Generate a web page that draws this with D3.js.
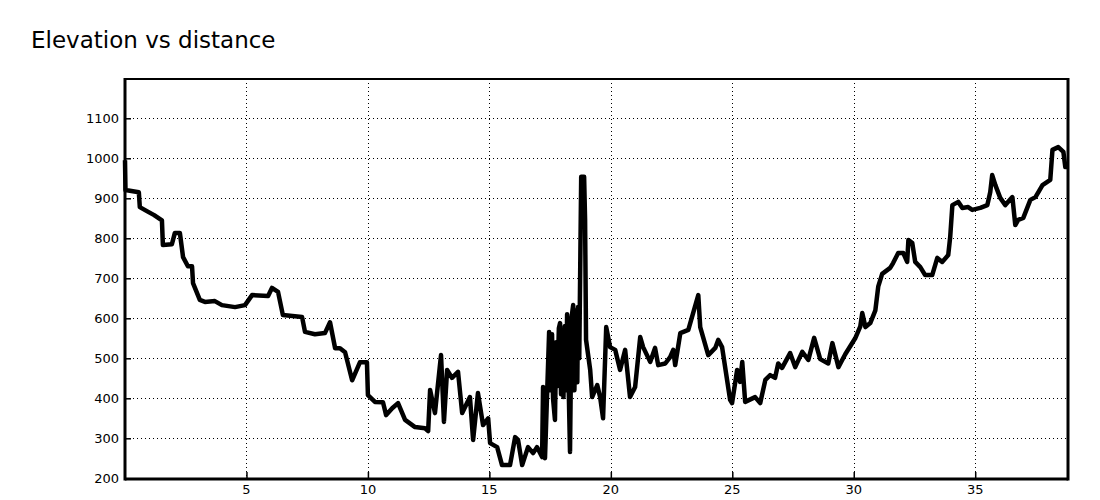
<!DOCTYPE html>
<html>
<head>
<meta charset="utf-8">
<script src="https://cdn.jsdelivr.net/npm/d3@7"></script>
<style>
  body { margin: 0; background: #fff; }
  svg { display: block; }
</style>
</head>
<body>
<svg id="chart" width="1100" height="500"></svg>
<script>
const title = "Elevation vs distance";
const xTicks = [5, 10, 15, 20, 25, 30, 35];
const yTicks = [200, 300, 400, 500, 600, 700, 800, 900, 1000, 1100];
const distance = [
  0, 0.02, 0.08, 0.57, 0.61, 0.9, 1.2, 1.52, 1.56, 1.93, 2.05, 2.26, 2.39, 2.59, 2.76, 2.80,
  3.08, 3.29, 3.70, 3.99, 4.53, 4.94, 5.23, 5.89, 6.05, 6.30, 6.50, 7.29, 7.41, 7.82, 8.23,
  8.44, 8.65, 8.85, 9.06, 9.35, 9.67, 9.96, 10.00, 10.29, 10.62, 10.75, 11.0, 11.24, 11.53,
  11.94, 12.35, 12.48, 12.56, 12.76, 13.01, 13.13, 13.26, 13.46, 13.71, 13.88, 14.20, 14.33,
  14.53, 14.74, 14.95, 15.03, 15.32, 15.52, 15.85, 16.06, 16.18, 16.35, 16.59, 16.80, 16.96,
  17.17, 17.21, 17.29, 17.46, 17.52, 17.58, 17.62, 17.70, 17.75, 17.80, 17.86, 17.91, 17.95,
  18.00, 18.05, 18.10, 18.16, 18.20, 18.26, 18.32, 18.38, 18.45, 18.50, 18.57, 18.62, 18.65,
  18.70, 18.78, 18.90, 18.94, 18.98, 19.15, 19.23, 19.44, 19.56, 19.68, 19.81,
  19.97, 20.18, 20.38, 20.59, 20.79, 21.00, 21.21, 21.33, 21.62, 21.82, 21.95, 22.24, 22.44,
  22.57, 22.65, 22.86, 23.19, 23.60, 23.68, 24.01, 24.30, 24.42, 24.58, 24.91, 24.99, 25.20,
  25.32, 25.41, 25.53, 25.94, 26.15, 26.36, 26.56, 26.76, 26.89, 27.05, 27.38, 27.59, 27.88,
  28.13, 28.37, 28.62, 28.95, 29.12, 29.37, 29.65, 30.06, 30.27, 30.35, 30.48, 30.68, 30.89,
  31.01, 31.17, 31.50, 31.62, 31.83, 32.04, 32.20, 32.25, 32.41, 32.53, 32.74, 32.94, 33.23,
  33.44, 33.64, 33.89, 33.97, 34.06, 34.30, 34.47, 34.71, 34.88, 35.21, 35.50, 35.62, 35.70,
  35.83, 36.03, 36.24, 36.53, 36.65, 36.77, 36.98, 37.27, 37.48, 37.77, 38.09, 38.18, 38.42,
  38.63, 38.71, 38.82
];
const elevation = [
  995, 920, 920, 915, 878, 868, 858, 845, 783, 785, 813, 813, 753, 730, 730, 688,
  646, 641, 643, 633, 628, 633, 658, 656, 676, 666, 608, 603, 566, 560, 563,
  590, 525, 525, 515, 445, 490, 490, 408, 391, 390, 358, 375, 388, 346,
  328, 325, 318, 421, 363, 508, 341, 471, 451, 466, 363, 403, 296,
  413, 333, 350, 288, 278, 233, 233, 303, 296, 233, 278, 263, 278,
  253, 428, 250, 566, 420, 560, 400, 346, 540, 430, 575, 588, 410,
  560, 403, 580, 420, 610, 440, 266, 600, 633, 420, 620, 440, 628,
  500, 954, 954, 846, 546, 471, 403, 433, 403, 350, 578,
  528, 521, 471, 521, 403, 428, 553, 528, 491, 526, 483, 487, 503,
  521, 483, 563, 571, 658, 578, 508, 526, 546, 528, 396, 388, 471,
  441, 491, 391, 403, 388, 446, 458, 451, 487, 476, 513, 478, 516,
  496, 551, 498, 487, 538, 478, 510, 550, 580, 613, 578, 588, 620,
  680, 711, 726, 738, 763, 763, 741, 796, 788, 741, 728, 708, 708,
  751, 741, 758, 803, 883, 891, 876, 878, 871, 876, 883, 916, 958,
  933, 901, 883, 903, 833, 846, 851, 896, 903, 933, 946, 1021, 1028,
  1016, 978, 978
];

const svg = d3.select("#chart");
const pLeft = 125, pRight = 1068, pTop = 79, pBottom = 479;

const x = d3.scaleLinear().domain([0, 38.82]).range([pLeft, pRight]);
const y = d3.scaleLinear().domain([200, 1200]).range([478.3, 78.3]);

svg.append("text")
  .attr("x", 31).attr("y", 47.5)
  .attr("font-family", "DejaVu Sans")
  .attr("font-size", 23)
  .attr("fill", "#000")
  .text(title);

const g = svg.append("g");

// gridlines
g.selectAll("line.hgrid").data(yTicks.filter(d => d > 200)).enter().append("line")
  .attr("x1", pLeft).attr("x2", pRight)
  .attr("y1", d => Math.round(y(d)) + 0.5).attr("y2", d => Math.round(y(d)) + 0.5)
  .attr("stroke", "#000").attr("stroke-width", 1).attr("stroke-dasharray", "1,3");
g.selectAll("line.vgrid").data(xTicks).enter().append("line")
  .attr("y1", pTop).attr("y2", pBottom)
  .attr("x1", d => Math.round(x(d)) + 0.5).attr("x2", d => Math.round(x(d)) + 0.5)
  .attr("stroke", "#000").attr("stroke-width", 1).attr("stroke-dasharray", "1,3");

// axes with inward ticks
const xAxis = d3.axisTop(x).tickValues(xTicks).tickSize(7).tickFormat(d3.format("d"));
const xg = svg.append("g").attr("transform", `translate(0,${pBottom})`).call(xAxis);
xg.select(".domain").remove();
xg.selectAll("text").remove();
xg.selectAll("line").attr("stroke", "#000").attr("stroke-width", 1.5);

const yAxis = d3.axisRight(y).tickValues(yTicks).tickSize(6);
const yg = svg.append("g").attr("transform", `translate(${pLeft},0)`).call(yAxis);
yg.select(".domain").remove();
yg.selectAll("text").remove();
yg.selectAll("line").attr("stroke", "#000").attr("stroke-width", 1.5);

// tick labels
svg.selectAll("text.xl").data(xTicks).enter().append("text")
  .attr("class", "xl")
  .attr("x", d => x(d)).attr("y", 494)
  .attr("text-anchor", "middle")
  .attr("font-family", "DejaVu Sans").attr("font-size", 13)
  .attr("fill", "#000")
  .text(d => d);
svg.selectAll("text.yl").data(yTicks).enter().append("text")
  .attr("class", "yl")
  .attr("x", 119).attr("y", d => y(d) + 4.5)
  .attr("text-anchor", "end")
  .attr("font-family", "DejaVu Sans").attr("font-size", 13)
  .attr("fill", "#000")
  .text(d => d);

// line
const pts = distance.map((d, i) => [d, elevation[i]]);
const line = d3.line().x(d => x(d[0])).y(d => y(d[1]));
svg.append("path")
  .datum(pts)
  .attr("d", line)
  .attr("fill", "none")
  .attr("stroke", "#000")
  .attr("stroke-width", 4.5)
  .attr("stroke-linejoin", "round");

// frame
svg.append("line").attr("x1", pLeft).attr("x2", pRight).attr("y1", pTop).attr("y2", pTop)
  .attr("stroke", "#000").attr("stroke-width", 2);
svg.append("line").attr("x1", pLeft).attr("x2", pLeft).attr("y1", pTop - 1).attr("y2", pBottom + 1.5)
  .attr("stroke", "#000").attr("stroke-width", 3);
svg.append("line").attr("x1", pRight).attr("x2", pRight).attr("y1", pTop - 1).attr("y2", pBottom + 1.5)
  .attr("stroke", "#000").attr("stroke-width", 3);
svg.append("line").attr("x1", pLeft).attr("x2", pRight).attr("y1", pBottom).attr("y2", pBottom)
  .attr("stroke", "#000").attr("stroke-width", 3);
</script>
</body>
</html>
